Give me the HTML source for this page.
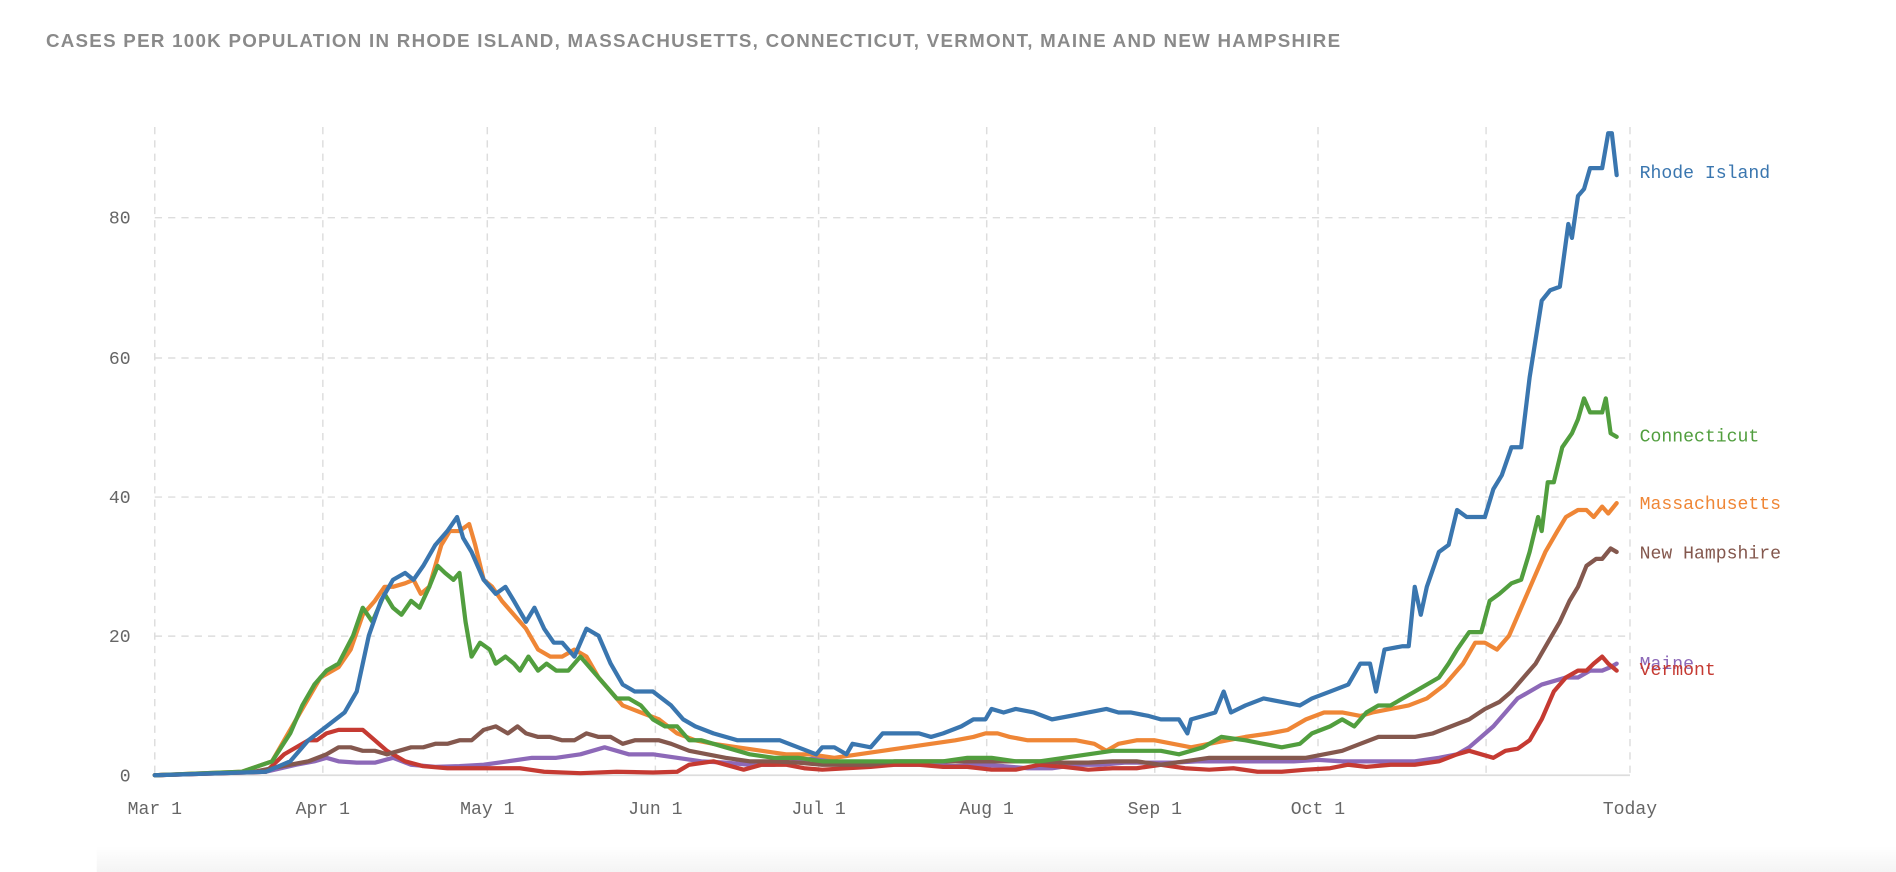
<!DOCTYPE html>
<html><head><meta charset="utf-8"><style>
html,body{margin:0;padding:0;background:#fff;width:1896px;height:872px;overflow:hidden}
svg{display:block}
.t{font-family:"Liberation Mono",monospace;font-size:15px;fill:#666}
</style></head><body>
<svg id="s" width="1896" height="872" viewBox="0 0 1568 721" preserveAspectRatio="none" xmlns="http://www.w3.org/2000/svg">
<defs><linearGradient id="g" x1="0" y1="0" x2="0" y2="1"><stop offset="0" stop-color="#fff"/><stop offset="1" stop-color="#f4f4f4"/></linearGradient></defs>
<rect x="80" y="700" width="1488" height="21" fill="url(#g)"/>
<text x="38" y="39" style="font-family:'Liberation Sans',sans-serif;font-size:15.5px;fill:#8a8a8a;font-weight:bold;letter-spacing:1.05px">CASES PER 100K POPULATION IN RHODE ISLAND, MASSACHUSETTS, CONNECTICUT, VERMONT, MAINE AND NEW HAMPSHIRE</text>
<g stroke="#ddd" stroke-width="1.2" stroke-dasharray="6,5" fill="none">
<line x1="128" y1="105" x2="128" y2="641"/><line x1="267" y1="105" x2="267" y2="641"/><line x1="403" y1="105" x2="403" y2="641"/><line x1="542" y1="105" x2="542" y2="641"/><line x1="677" y1="105" x2="677" y2="641"/><line x1="816" y1="105" x2="816" y2="641"/><line x1="955" y1="105" x2="955" y2="641"/><line x1="1090" y1="105" x2="1090" y2="641"/><line x1="1229" y1="105" x2="1229" y2="641"/><line x1="1348" y1="105" x2="1348" y2="641"/>
<line x1="128" y1="526" x2="1348" y2="526"/><line x1="128" y1="411" x2="1348" y2="411"/><line x1="128" y1="296" x2="1348" y2="296"/><line x1="128" y1="180" x2="1348" y2="180"/>
</g>
<line x1="128" y1="641" x2="1348" y2="641" stroke="#ddd" stroke-width="1.5"/>
<g class="t" text-anchor="end"><text x="108" y="646">0</text><text x="108" y="531">20</text><text x="108" y="416">40</text><text x="108" y="301">60</text><text x="108" y="185">80</text></g>
<g class="t" text-anchor="middle"><text x="128" y="673">Mar 1</text><text x="267" y="673">Apr 1</text><text x="403" y="673">May 1</text><text x="542" y="673">Jun 1</text><text x="677" y="673">Jul 1</text><text x="816" y="673">Aug 1</text><text x="955" y="673">Sep 1</text><text x="1090" y="673">Oct 1</text><text x="1348" y="673">Today</text></g>
<g id="lines" fill="none" stroke-width="3.5" stroke-linejoin="round" stroke-linecap="round"></g>
<g class="t" style="font-size:15px">
<text x="1356" y="147" style="fill:#3a76af">Rhode Island</text>
<text x="1356" y="365" style="fill:#519e3e">Connecticut</text>
<text x="1356" y="421" style="fill:#ef8636">Massachusetts</text>
<text x="1356" y="462" style="fill:#84584e">New Hampshire</text>
<text x="1356" y="553" style="fill:#8d69b8">Maine</text>
<text x="1356" y="558" style="fill:#c53a32">Vermont</text>
</g>
</svg>
<script>
var S={
"#8d69b8":[128,0,220,0.5,245,1.5,260,2,270,2.5,280,2,295,1.8,310,1.8,325,2.5,340,1.5,360,1.2,380,1.3,400,1.5,420,2,440,2.5,460,2.5,480,3,500,4,510,3.5,520,3,540,3,560,2.5,580,2,600,1.8,620,1.5,640,1.5,660,2,675,2.5,690,2,710,1.5,730,1.5,750,1.5,770,1.5,790,1.3,810,1.5,830,1.3,850,1,870,1,890,1.5,910,1.5,930,1.8,950,1.8,970,1.8,990,2,1010,2,1030,2,1050,2,1070,2,1090,2.2,1110,2,1130,2,1150,2,1170,2,1190,2.5,1205,3,1215,4,1225,5.5,1235,7,1245,9,1255,11,1265,12,1275,13,1285,13.5,1295,14,1305,14,1315,15,1325,15,1332,15.5,1337,16],
"#c53a32":[128,0,220,0.5,235,3,245,4,255,5,262,5,270,6,280,6.5,290,6.5,300,6.5,310,5,320,3.5,335,2,350,1.3,370,1,390,1,410,1,430,1,450,0.5,480,0.3,510,0.5,540,0.4,560,0.5,570,1.5,590,2,600,1.5,615,0.8,630,1.5,650,1.5,665,1,680,0.8,700,1,720,1.2,740,1.5,760,1.5,780,1.2,800,1.2,820,0.8,840,0.8,860,1.5,880,1.2,900,0.8,920,1,940,1,960,1.5,980,1,1000,0.8,1020,1,1040,0.5,1060,0.5,1080,0.8,1100,1,1115,1.5,1130,1.2,1150,1.5,1170,1.5,1190,2,1205,3,1215,3.5,1225,3,1235,2.5,1245,3.5,1255,3.8,1265,5,1275,8,1285,12,1295,14,1305,15,1312,15,1318,16,1325,17,1330,16,1337,15],
"#84584e":[128,0,210,0.5,240,1.5,255,2,270,3,280,4,290,4,300,3.5,310,3.5,320,3,330,3.5,340,4,350,4,360,4.5,370,4.5,380,5,390,5,400,6.5,410,7,420,6,428,7,435,6,445,5.5,455,5.5,465,5,475,5,485,6,495,5.5,505,5.5,515,4.5,525,5,535,5,545,5,555,4.5,570,3.5,585,3,600,2.5,620,2,640,2,660,1.8,680,1.5,700,1.5,720,1.5,740,2,760,2,780,2,800,2,820,2,840,2,860,2,880,1.8,900,1.8,920,2,940,2,960,1.5,980,2,1000,2.5,1020,2.5,1040,2.5,1060,2.5,1080,2.5,1095,3,1110,3.5,1125,4.5,1140,5.5,1155,5.5,1170,5.5,1185,6,1200,7,1215,8,1228,9.5,1240,10.5,1250,12,1260,14,1270,16,1280,19,1290,22,1298,25,1305,27,1312,30,1320,31,1325,31,1332,32.5,1337,32],
"#ef8636":[128,0,200,0.5,225,2,235,5,245,8,255,11,265,14,280,15.5,290,18,300,23,310,25,318,27,325,27,335,27.5,342,28,348,26,355,27,360,30,365,33,372,35,380,35,388,36,393,33,400,28,407,27,415,25,425,23,435,21,445,18,455,17,465,17,475,18,485,17,495,14,505,12,515,10,530,9,545,8,560,6,575,5,590,4.5,610,4,630,3.5,650,3,670,3,690,2.5,710,3,730,3.5,750,4,770,4.5,790,5,805,5.5,815,6,825,6,835,5.5,850,5,870,5,890,5,905,4.5,915,3.5,925,4.5,940,5,955,5,970,4.5,985,4,1000,4.5,1015,5,1030,5.5,1050,6,1065,6.5,1080,8,1095,9,1110,9,1125,8.5,1135,9,1150,9.5,1165,10,1180,11,1195,13,1210,16,1220,19,1228,19,1238,18,1248,20,1258,24,1268,28,1278,32,1288,35,1295,37,1305,38,1312,38,1318,37,1325,38.5,1330,37.5,1337,39],
"#519e3e":[128,0,200,0.5,225,2,240,6,250,10,260,13,270,15,280,16,292,20,300,24,308,22,318,26,325,24,332,23,340,25,347,24,355,27,362,30,368,29,375,28,380,29,385,22,390,17,397,19,405,18,410,16,418,17,425,16,430,15,437,17,445,15,452,16,460,15,470,15,480,17,490,15,500,13,510,11,520,11,530,10,540,8,550,7,560,7,570,5,580,5,600,4,620,3,640,2.5,660,2.5,680,2,700,2,730,2,760,2,780,2,800,2.5,820,2.5,840,2,860,2,880,2.5,900,3,920,3.5,940,3.5,960,3.5,975,3,985,3.5,995,4,1010,5.5,1030,5,1045,4.5,1060,4,1075,4.5,1085,6,1100,7,1110,8,1120,7,1130,9,1140,10,1150,10,1160,11,1170,12,1180,13,1190,14,1198,16,1205,18,1215,20.5,1225,20.5,1232,25,1240,26,1250,27.5,1258,28,1265,32,1272,37,1275,35,1280,42,1285,42,1292,47,1300,49,1305,51,1310,54,1315,52,1325,52,1328,54,1332,49,1337,48.5],
"#3a76af":[128,0,220,0.5,240,2,255,5,270,7,285,9,295,12,305,20,315,25,325,28,335,29,342,28,350,30,360,33,370,35,378,37,383,34,390,32,400,28,410,26,418,27,425,25,435,22,442,24,450,21,458,19,465,19,475,17,485,21,495,20,505,16,515,13,525,12,540,12,555,10,565,8,575,7,590,6,610,5,630,5,645,5,660,4,675,3,680,4,690,4,700,3,705,4.5,720,4,730,6,745,6,760,6,770,5.5,780,6,795,7,805,8,815,8,820,9.5,830,9,840,9.5,855,9,870,8,885,8.5,900,9,915,9.5,925,9,935,9,950,8.5,960,8,975,8,982,6,985,8,995,8.5,1005,9,1012,12,1018,9,1030,10,1045,11,1060,10.5,1075,10,1085,11,1100,12,1115,13,1125,16,1133,16,1138,12,1145,18,1160,18.5,1165,18.5,1170,27,1175,23,1180,27,1190,32,1198,33,1205,38,1213,37,1220,37,1228,37,1235,41,1242,43,1250,47,1258,47,1265,57,1275,68,1282,69.5,1290,70,1297,79,1300,77,1305,83,1310,84,1315,87,1325,87,1330,92,1333,92,1337,86]};
var g=document.getElementById('lines'),ns="http://www.w3.org/2000/svg";
for(var c in S){var a=S[c],p=[];for(var i=0;i<a.length;i+=2)p.push(a[i]+","+(641-a[i+1]*5.77).toFixed(1));
var e=document.createElementNS(ns,"polyline");e.setAttribute("points",p.join(" "));e.setAttribute("stroke",c);g.appendChild(e);}
</script>
</body></html>
